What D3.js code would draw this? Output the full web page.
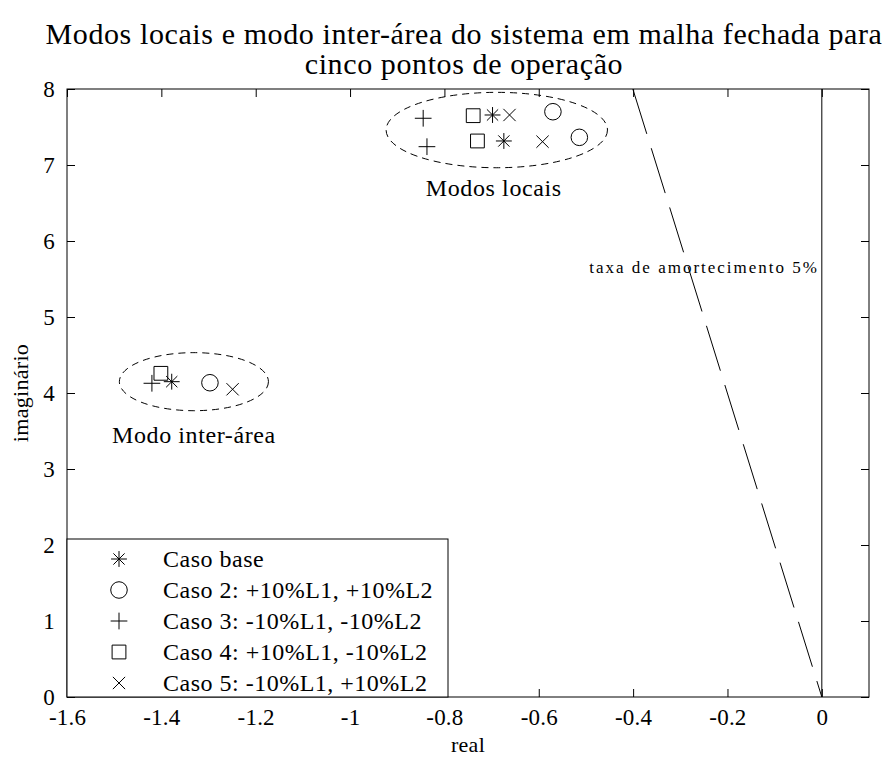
<!DOCTYPE html>
<html>
<head>
<meta charset="utf-8">
<script src="https://cdn.jsdelivr.net/npm/d3@7"></script>
<style>
  html, body { margin: 0; padding: 0; background: #fff; }
  svg { display: block; font-family: "Liberation Serif", "Times New Roman", serif; }
  svg text { font-family: "Liberation Serif", "Times New Roman", serif; }
</style>
</head>
<body>
<svg id="chart" width="891" height="760"></svg>
<script>
// ---------------- data ----------------
const titleLines = ["Modos locais e modo inter-área do sistema em malha fechada para", "cinco pontos de operação"];
const xLabel = "real";
const yLabel = "imaginário";
const xTicks = [-1.6, -1.4, -1.2, -1, -0.8, -0.6, -0.4, -0.2, 0];
const xTickLabels = ["-1.6", "-1.4", "-1.2", "-1", "-0.8", "-0.6", "-0.4", "-0.2", "0"];
const yTicks = [0, 1, 2, 3, 4, 5, 6, 7, 8];
const yTickLabels = ["0", "1", "2", "3", "4", "5", "6", "7", "8"];
const xDomain = [-1.6, 0.1];
const yDomain = [0, 8];

const caseNames = ["Caso base", "Caso 2: +10%L1, +10%L2", "Caso 3: -10%L1, -10%L2", "Caso 4: +10%L1, -10%L2", "Caso 5: -10%L1, +10%L2"];
const caseMarkers = ["asterisk", "circle", "plus", "square", "times"];
// each case: [inter-area, local mode 1, local mode 2]
const case1Real = [-1.378, -0.698, -0.674];
const case1Imag = [4.149, 7.658, 7.316];
const case2Real = [-1.297, -0.570, -0.514];
const case2Imag = [4.135, 7.701, 7.364];
const case3Real = [-1.420, -0.845, -0.837];
const case3Imag = [4.128, 7.615, 7.241];
const case4Real = [-1.401, -0.739, -0.730];
const case4Imag = [4.259, 7.649, 7.316];
const case5Real = [-1.249, -0.662, -0.592];
const case5Imag = [4.049, 7.658, 7.307];

// 5% damping line (from top of plot down to origin)
const dampReal = [-0.4006, 0];
const dampImag = [8, 0];
// imaginary axis line
const zeroReal = [0, 0];
const zeroImag = [0, 8];

// grouping ellipses: center real, center imag, radius real, radius imag
const ellipseCx = [-0.689, -1.331];
const ellipseCy = [7.46, 4.149];
const ellipseRx = [0.2346, 0.158];
const ellipseRy = [0.496, 0.382];
const annotText = ["Modos locais", "Modo inter-área", "taxa de amortecimento 5%"];

// ---------------- layout ----------------
const FONT = '"Liberation Serif", "Times New Roman", serif';
const svg = d3.select("#chart");
const M = { left: 67, top: 89, right: 869, bottom: 697 };
const x = d3.scaleLinear().domain(xDomain).range([M.left, M.right]);
const y = d3.scaleLinear().domain(yDomain).range([M.bottom, M.top]);

const cases = [
  { re: case1Real, im: case1Imag },
  { re: case2Real, im: case2Imag },
  { re: case3Real, im: case3Imag },
  { re: case4Real, im: case4Imag },
  { re: case5Real, im: case5Imag }
];

// marker symbol types
const asterisk8 = {
  draw(ctx, size) {
    const r = Math.sqrt(size) * 0.6;
    const d = r * Math.SQRT1_2;
    ctx.moveTo(-r, 0); ctx.lineTo(r, 0);
    ctx.moveTo(0, -r); ctx.lineTo(0, r);
    ctx.moveTo(-d, -d); ctx.lineTo(d, d);
    ctx.moveTo(-d, d); ctx.lineTo(d, -d);
  }
};
const plusMark = {
  draw(ctx, size) {
    const r = Math.sqrt(size) * 0.5;
    ctx.moveTo(-r, 0); ctx.lineTo(r, 0);
    ctx.moveTo(0, -r); ctx.lineTo(0, r);
  }
};
const symbolFor = {
  asterisk: d3.symbol().type(asterisk8).size(175),
  circle: d3.symbol().type(d3.symbolCircle).size(215),
  plus: d3.symbol().type(plusMark).size(280),
  square: d3.symbol().type(d3.symbolSquare).size(190),
  times: d3.symbol().type(d3.symbolTimes).size(100)
};

// ---------------- plot content ----------------
const plot = svg.append("g");

ellipseCx.forEach((cx, i) => {
  plot.append("ellipse")
    .attr("cx", x(cx))
    .attr("cy", y(ellipseCy[i]))
    .attr("rx", x(cx + ellipseRx[i]) - x(cx))
    .attr("ry", y(ellipseCy[i]) - y(ellipseCy[i] + ellipseRy[i]))
    .attr("fill", "none")
    .attr("stroke", "#000")
    .attr("stroke-width", 1)
    .attr("stroke-dasharray", "7,5");
});

const line = d3.line().x(d => x(d[0])).y(d => y(d[1]));

plot.append("path")
  .attr("d", line(dampReal.map((r, i) => [r, dampImag[i]])))
  .attr("fill", "none").attr("stroke", "#000").attr("stroke-width", 1)
  .attr("stroke-dasharray", "47,15");

plot.append("path")
  .attr("d", line(zeroReal.map((r, i) => [r, zeroImag[i]])))
  .attr("fill", "none").attr("stroke", "#000").attr("stroke-width", 1);

cases.forEach((c, ci) => {
  plot.selectAll(null)
    .data(c.re.map((r, i) => [r, c.im[i]]))
    .enter().append("path")
    .attr("transform", d => `translate(${x(d[0])},${y(d[1])})`)
    .attr("d", symbolFor[caseMarkers[ci]]())
    .attr("fill", "none")
    .attr("stroke", "#000")
    .attr("stroke-width", 1);
});

// ---------------- axes ----------------
function styleAxis(g) {
  g.attr("font-family", FONT);
  g.select(".domain").remove();
  g.selectAll(".tick line").attr("stroke", "#000").attr("stroke-width", 1);
  g.selectAll(".tick text")
    .attr("fill", "#000")
    .style("font-family", FONT)
    .style("font-size", "23px")
    .style("letter-spacing", "0.2px");
}
svg.append("g").attr("transform", `translate(0,${M.bottom})`)
  .call(d3.axisBottom(x).tickValues(xTicks).tickFormat((d, i) => xTickLabels[i]).tickSizeInner(-8).tickSizeOuter(0).tickPadding(12))
  .call(styleAxis);
svg.append("g").attr("transform", `translate(0,${M.top})`)
  .call(d3.axisTop(x).tickValues(xTicks).tickFormat("").tickSizeInner(-8).tickSizeOuter(0))
  .call(styleAxis);
svg.append("g").attr("transform", `translate(${M.left},0)`)
  .call(d3.axisLeft(y).tickValues(yTicks).tickFormat((d, i) => yTickLabels[i]).tickSizeInner(-8).tickSizeOuter(0).tickPadding(12))
  .call(styleAxis);
svg.append("g").attr("transform", `translate(${M.right},0)`)
  .call(d3.axisRight(y).tickValues(yTicks).tickFormat("").tickSizeInner(-8).tickSizeOuter(0))
  .call(styleAxis);

svg.append("rect")
  .attr("x", M.left).attr("y", M.top)
  .attr("width", M.right - M.left).attr("height", M.bottom - M.top)
  .attr("fill", "none").attr("stroke", "#000").attr("stroke-width", 1);

// ---------------- text ----------------
function addText(txt, tx, ty, size, anchor, ls, rotate) {
  const t = svg.append("text")
    .attr("x", tx).attr("y", ty)
    .attr("text-anchor", anchor)
    .attr("fill", "#000")
    .style("font-family", FONT)
    .style("font-size", size + "px")
    .style("letter-spacing", ls + "px")
    .text(txt);
  if (rotate) t.attr("transform", `rotate(${rotate},${tx},${ty})`);
  return t;
}
const cxPlot = (M.left + M.right) / 2;
addText(titleLines[0], cxPlot - 4, 44, 30, "middle", 0.6);
addText(titleLines[1], cxPlot - 4, 74, 30, "middle", 0.6);
addText(xLabel, cxPlot, 752, 22, "middle", 0.3);
addText(yLabel, 28, (M.top + M.bottom) / 2, 22, "middle", 0.3, -90);

addText(annotText[0], x(ellipseCx[0]) - 3, 196, 24, "middle", 0.6);
addText(annotText[1], x(ellipseCx[1]), 443, 24, "middle", 0.6);
addText(annotText[2], 819, 273, 17, "end", 2.0);

// ---------------- legend ----------------
const L = { x0: M.left, x1: 448, y0: 539, y1: M.bottom };
const leg = svg.append("g");
leg.append("rect")
  .attr("x", L.x0).attr("y", L.y0)
  .attr("width", L.x1 - L.x0).attr("height", L.y1 - L.y0)
  .attr("fill", "#fff").attr("stroke", "#000").attr("stroke-width", 1);
caseNames.forEach((name, i) => {
  const ry = L.y0 + 20 + i * 31;
  leg.append("path")
    .attr("transform", `translate(119,${ry})`)
    .attr("d", symbolFor[caseMarkers[i]]())
    .attr("fill", "none").attr("stroke", "#000").attr("stroke-width", 1);
  leg.append("text")
    .attr("x", 163).attr("y", ry)
    .attr("dy", "0.35em")
    .attr("fill", "#000")
    .style("font-family", FONT)
    .style("font-size", "24px")
    .style("letter-spacing", "0.5px")
    .text(name);
});
</script>
</body>
</html>
